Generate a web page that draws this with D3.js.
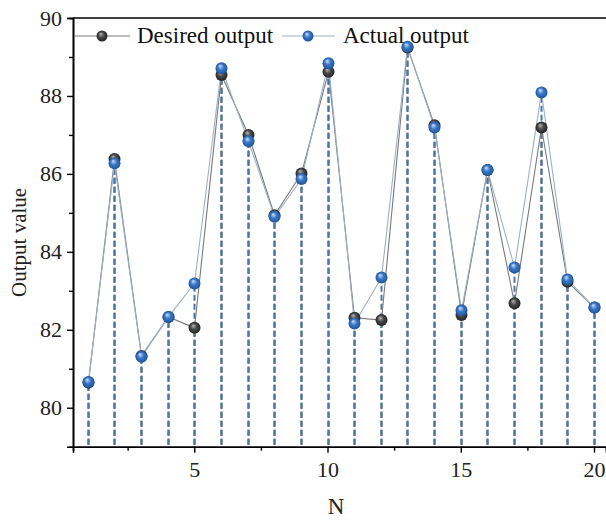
<!DOCTYPE html>
<html><head><meta charset="utf-8">
<script src="https://cdn.jsdelivr.net/npm/d3@7"></script>
<style>body{margin:0;background:#fff}svg{display:block;font-family:"Liberation Serif","Times New Roman",serif}</style>
</head><body>
<svg id="c" width="606" height="526"></svg>
<script>
const N = d3.range(1, 21);
const desired = [80.65, 86.38, 81.33, 82.33, 82.05, 88.54, 87.00, 84.94, 86.01, 88.62,
                 82.31, 82.25, 89.24, 87.25, 82.38, 86.10, 82.68, 87.19, 83.23, 82.57];
const actual  = [80.66, 86.27, 81.31, 82.33, 83.19, 88.71, 86.84, 84.90, 85.87, 88.84,
                 82.16, 83.34, 89.26, 87.19, 82.50, 86.10, 83.60, 88.09, 83.29, 82.57];
const xMajor = [5, 10, 15, 20];
const xMinor = [2.5, 7.5, 12.5, 17.5];
const yMajor = [80, 82, 84, 86, 88, 90];
const yMinor = [81, 83, 85, 87, 89];
const seriesNames = ["Desired output", "Actual output"];

const svg = d3.select("#c");
const L = 73, R = 606, T = 18, B = 446.7;
const x = d3.scaleLinear().domain([0.45, 20.45]).range([L, R]);
const y = d3.scaleLinear().domain([79, 90]).range([B, T]);

const defs = svg.append("defs");
function grad(id, light, mid, dark) {
  const g = defs.append("radialGradient").attr("id", id).attr("cx", "50%").attr("cy", "50%").attr("r", "55%").attr("fx", "38%").attr("fy", "30%");
  g.append("stop").attr("offset", "0%").attr("stop-color", light);
  g.append("stop").attr("offset", "45%").attr("stop-color", mid);
  g.append("stop").attr("offset", "100%").attr("stop-color", dark);
}
grad("gDark", "#b8b8b8", "#4a4a4a", "#1e1e1e");
grad("gBlue", "#cfe2ff", "#3a78c8", "#1d4f94");

const series = [
  {name: seriesNames[0], vals: desired, line: "#7a7a7a", drop: "#4f5a66", fill: "url(#gDark)"},
  {name: seriesNames[1], vals: actual, line: "#9db0c8", drop: "#4a76a6", fill: "url(#gBlue)"}
];

// drop lines (drawn from the axis upward so both series share the same dash phase)
series.forEach(s => {
  svg.append("g").selectAll("line").data(N).join("line")
    .attr("x1", d => Math.round(x(d)) + 0.5).attr("x2", d => Math.round(x(d)) + 0.5)
    .attr("y1", B - 2).attr("y2", (d, i) => y(s.vals[i]) + 5)
    .attr("stroke", s.drop).attr("stroke-width", 2).attr("stroke-dasharray", "6,3");
});
// connecting lines
series.forEach(s => {
  svg.append("path").datum(N)
    .attr("fill", "none").attr("stroke", s.line).attr("stroke-width", 1.1)
    .attr("d", d3.line().x(d => Math.round(x(d)) + 0.5).y((d, i) => y(s.vals[i])));
});
// markers
series.forEach(s => {
  svg.append("g").selectAll("circle").data(N).join("circle")
    .attr("cx", d => Math.round(x(d)) + 0.5).attr("cy", (d, i) => y(s.vals[i])).attr("r", 6)
    .attr("fill", s.fill);
});

// axes
svg.append("g").attr("transform", `translate(0,${B})`)
  .call(d3.axisBottom(x).tickValues(xMajor).tickSize(6).tickPadding(9).tickFormat(d3.format("d")));
svg.append("g").attr("transform", `translate(0,${B})`)
  .call(d3.axisBottom(x).tickValues(xMinor).tickSize(4).tickFormat(""));
svg.append("g").attr("transform", `translate(${L},0)`)
  .call(d3.axisLeft(y).tickValues(yMajor).tickSize(6).tickPadding(5).tickFormat(d3.format("d")));
svg.append("g").attr("transform", `translate(${L},0)`)
  .call(d3.axisLeft(y).tickValues(yMinor).tickSize(4).tickFormat(""));
svg.selectAll(".domain").attr("stroke", "#000").attr("stroke-width", 1.6);
svg.selectAll(".tick line").attr("stroke", "#000").attr("stroke-width", 1.4);
svg.selectAll(".tick text").attr("font-family", "Liberation Serif, serif").attr("font-size", 22).attr("fill", "#222");
// top frame line
svg.append("line").attr("x1", L).attr("x2", R).attr("y1", T).attr("y2", T).attr("stroke", "#000").attr("stroke-width", 1.6);

// axis titles
svg.append("text").attr("x", 336).attr("y", 514).attr("text-anchor", "middle")
  .attr("font-size", 23).attr("fill", "#222").text("N");
svg.append("text").attr("transform", `translate(26,${(T + B) / 2 + 10}) rotate(-90)`).attr("text-anchor", "middle")
  .attr("font-size", 21).attr("fill", "#222").text("Output value");

// legend
const leg = [{x0: 75, xm: 102, x1: 130, tx: 137}, {x0: 282, xm: 308, x1: 335, tx: 343}];
series.forEach((s, i) => {
  const g = svg.append("g");
  g.append("line").attr("x1", leg[i].x0).attr("x2", leg[i].x1).attr("y1", 36).attr("y2", 36)
    .attr("stroke", s.line).attr("stroke-width", 1.1);
  g.append("circle").attr("cx", leg[i].xm).attr("cy", 36).attr("r", 5.5).attr("fill", s.fill);
  g.append("text").attr("x", leg[i].tx).attr("y", 43).attr("font-size", 23).attr("fill", "#111").text(s.name);
});
</script>
</body></html>
